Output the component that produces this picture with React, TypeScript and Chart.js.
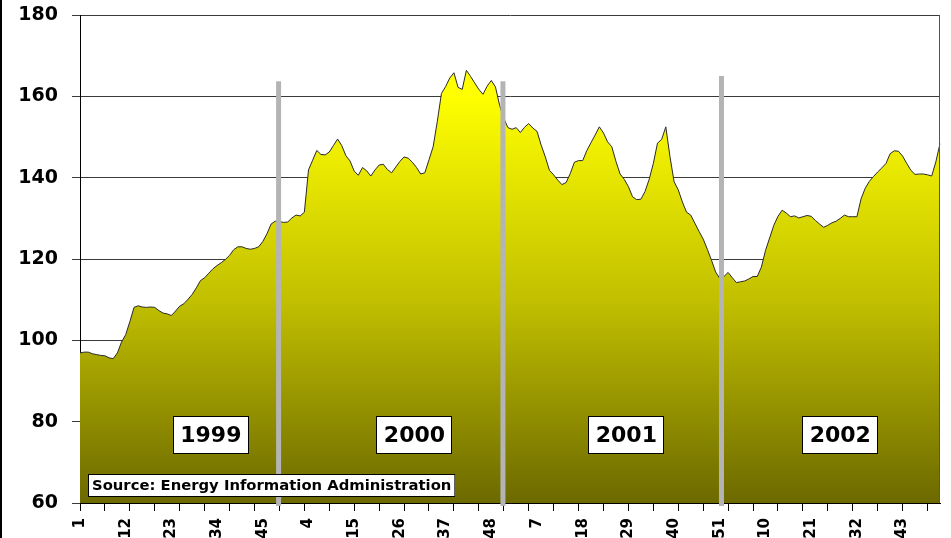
import React, { useEffect, useRef } from "react";
import { Chart, registerables } from "chart.js";

Chart.register(...registerables);

const years = ["1999", "2000", "2001", "2002"];
const weeksPerYear = 52;

const prices1999 = [
  96.9, 97.1, 97.1, 96.7, 96.5, 96.3, 96.2, 95.7, 95.5, 96.9,
  99.6, 101.4, 104.6, 108.1, 108.5, 108.2, 108.1, 108.2, 108.1, 107.3,
  106.7, 106.5, 106.1, 107.2, 108.4, 109.0, 110.1, 111.3, 112.9, 114.7,
  115.4, 116.5, 117.6, 118.4, 119.1, 119.9, 120.9, 122.3, 123.0, 123.0,
  122.6, 122.4, 122.6, 123.0, 124.3, 126.2, 128.6, 129.3, 129.2, 129.0,
  129.1, 130.1,
];
const prices2000 = [
  130.8, 130.6, 131.5, 141.9, 144.3, 146.7, 145.7, 145.6, 146.3, 147.9,
  149.5, 147.9, 145.4, 144.1, 141.6, 140.6, 142.5, 141.7, 140.4, 141.9,
  143.1, 143.3, 142.0, 141.2, 142.6, 144.0, 145.1, 144.8, 143.8, 142.5,
  140.9, 141.2, 144.4, 147.6, 153.8, 160.7, 162.4, 164.5, 165.8, 162.2,
  161.7, 166.4, 164.9, 163.3, 161.7, 160.5, 162.5, 163.9, 162.3, 157.8,
  154.6, 152.3,
];
const prices2001 = [
  151.9, 152.3, 151.1, 152.4, 153.3, 152.2, 151.4, 148.0, 145.1, 141.8,
  140.7, 139.4, 138.3, 138.8, 141.0, 143.8, 144.2, 144.2, 146.7, 148.6,
  150.5, 152.5, 151.0, 148.8, 147.6, 144.0, 140.9, 139.6, 137.8, 135.3,
  134.6, 134.7, 136.6, 139.6, 143.5, 148.5, 149.4, 152.5, 145.2, 139.0,
  137.0, 134.0, 131.5, 130.8, 128.8, 126.8, 124.9, 122.4, 119.7, 116.8,
  115.2, 115.7,
];
const prices2002 = [
  116.7, 115.4, 114.2, 114.4, 114.6, 115.1, 115.7, 115.7, 118.0, 122.1,
  125.2, 128.3, 130.5, 132.0, 131.3, 130.4, 130.6, 130.1, 130.4, 130.7,
  130.5, 129.5, 128.6, 127.8, 128.3, 128.9, 129.3, 130.0, 130.8, 130.4,
  130.4, 130.4, 134.8, 137.4, 139.1, 140.3, 141.4, 142.4, 143.5, 145.9,
  146.6, 146.5, 145.3, 143.5, 141.8, 140.8, 140.9, 140.9, 140.7, 140.4,
  143.9, 148.4,
];

const yMin = 60;
const yMax = 180;
const yStep = 20;
const labelEvery = 11;
const tickMarkEvery = 6;

// year dividers (category position, top value) and year label positions
const dividerPos = [47.8, 101.8, 154.4];
const dividerTop = [163.7, 163.7, 165.0];
const yearLabelPos = [31.5, 80.5, 131.5, 183.0];
const yearLabelValue = 76.6;
const sourceText = "Source: Energy Information Administration";

const weekLabels: string[] = [];
years.forEach(() => {
  for (let w = 1; w <= weeksPerYear; w++) weekLabels.push(String(w));
});
const prices = [...prices1999, ...prices2000, ...prices2001, ...prices2002];

const FONT = "'DejaVu Sans', Verdana, sans-serif";

const overlayPlugin = {
  id: "overlay",
  afterDatasetsDraw(chart: any) {
    const { ctx, chartArea, scales } = chart;
    const xs = scales.x;
    const ys = scales.y;
    ctx.save();
    // right border of plot area
    ctx.strokeStyle = "#555";
    ctx.lineWidth = 1;
    ctx.beginPath();
    ctx.moveTo(Math.round(chartArea.right) - 0.5, chartArea.top);
    ctx.lineTo(Math.round(chartArea.right) - 0.5, chartArea.bottom);
    ctx.stroke();

    // grey year dividers
    ctx.fillStyle = "#B4B4B4";
    dividerPos.forEach((p, i) => {
      const x = xs.getPixelForValue(p);
      const top = ys.getPixelForValue(dividerTop[i]);
      ctx.fillRect(x - 2.5, top, 5, chartArea.bottom + 3 - top);
    });

    // year labels
    const yc = ys.getPixelForValue(yearLabelValue);
    ctx.font = `bold 22px ${FONT}`;
    ctx.textAlign = "center";
    ctx.textBaseline = "middle";
    yearLabelPos.forEach((p, i) => {
      const x = xs.getPixelForValue(p);
      const w = 76;
      const h = 38;
      ctx.fillStyle = "#fff";
      ctx.fillRect(Math.round(x - w / 2), Math.round(yc - h / 2), w, h);
      ctx.strokeStyle = "#000";
      ctx.lineWidth = 1;
      ctx.strokeRect(Math.round(x - w / 2) + 0.5, Math.round(yc - h / 2) + 0.5, w - 1, h - 1);
      ctx.fillStyle = "#000";
      ctx.fillText(years[i], x, yc + 1);
    });

    // source box
    const sx = chartArea.left + 8;
    const sh = 23;
    const sy = chartArea.bottom - 6 - sh;
    ctx.font = `bold 14.8px ${FONT}`;
    const tw = ctx.measureText(sourceText).width;
    const sw = tw + 8;
    ctx.fillStyle = "#fff";
    ctx.fillRect(sx, sy, sw, sh);
    ctx.strokeStyle = "#000";
    ctx.strokeRect(sx + 0.5, sy + 0.5, sw - 1, sh - 1);
    ctx.fillStyle = "#000";
    ctx.textAlign = "left";
    ctx.fillText(sourceText, sx + 4, sy + sh / 2 + 1);
    ctx.restore();
  },
};

export default function App() {
  const ref = useRef<HTMLCanvasElement>(null);

  useEffect(() => {
    if (!ref.current) return;
    const chart = new Chart(ref.current, {
      type: "line",
      data: {
        labels: weekLabels,
        datasets: [
          {
            data: prices,
            fill: "start",
            borderColor: "#2a2a2a",
            borderWidth: 1,
            pointRadius: 0,
            tension: 0,
            backgroundColor: (c: any) => {
              const { chart: ch } = c;
              const area = ch.chartArea;
              if (!area) return "#cccc00";
              const g = ch.ctx.createLinearGradient(0, area.top + 80, 0, area.bottom);
              g.addColorStop(0, "#FFFF00");
              g.addColorStop(0.5, "#C2C000");
              g.addColorStop(1, "#6C6900");
              return g;
            },
          },
        ],
      },
      options: {
        responsive: false,
        animation: false,
        devicePixelRatio: 1,
        layout: { padding: { top: 15, right: 11, left: 0, bottom: 0 } },
        plugins: { legend: { display: false }, tooltip: { enabled: false } },
        scales: {
          x: {
            type: "category",
            offset: false,
            afterFit: (s: any) => {
              s.height = 35;
              s.paddingLeft = 0;
              s.paddingRight = 0;
            },
            border: { display: true, color: "#000", width: 1 },
            grid: {
              drawOnChartArea: false,
              drawTicks: true,
              tickLength: 8,
              color: (c: any) => (c.index % tickMarkEvery === 0 ? "#000" : "rgba(0,0,0,0)"),
            },
            ticks: {
              autoSkip: false,
              maxRotation: 90,
              minRotation: 90,
              padding: 7,
              color: "#000",
              font: { family: FONT, weight: "bold", size: 15 },
              callback: (_v: any, i: number) => (i % labelEvery === 0 ? weekLabels[i] : ""),
            },
          },
          y: {
            min: yMin,
            max: yMax,
            afterFit: (s: any) => {
              s.width = 80;
              s.paddingTop = 0;
              s.paddingBottom = 0;
            },
            border: { display: true, color: "#000", width: 1 },
            grid: { color: "#3a3a3a", lineWidth: 1, tickLength: 8, drawTicks: true },
            ticks: {
              stepSize: yStep,
              padding: 14,
              color: "#000",
              font: { family: FONT, weight: "bold", size: 19 },
            },
          },
        },
      },
      plugins: [overlayPlugin],
    });
    return () => chart.destroy();
  }, []);

  return (
    <div style={{ position: "absolute", left: 0, top: 0, width: 951, height: 538, background: "#fff" }}>
      <canvas ref={ref} width={951} height={538} style={{ width: 951, height: 538, display: "block" }} />
      <div style={{ position: "absolute", left: 0, top: 0, width: 2, height: 538, background: "#000" }} />
    </div>
  );
}
